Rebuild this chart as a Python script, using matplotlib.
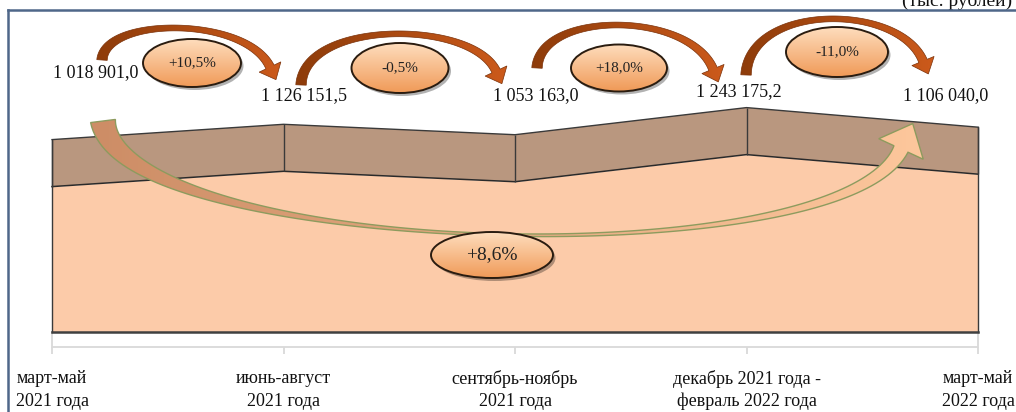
import numpy as np
import matplotlib
matplotlib.use('Agg')
import matplotlib.pyplot as plt
from matplotlib.patches import Polygon, Ellipse
from matplotlib.colors import LinearSegmentedColormap

periods = ['март-май\n2021 года', 'июнь-август\n2021 года', 'сентябрь-ноябрь\n2021 года',
           'декабрь 2021 года -\nфевраль 2022 года', 'март-май\n2022 года']
values = np.array([1018901.0, 1126151.5, 1053163.0, 1243175.2, 1106040.0])
change_labels = ['+10,5%', '-0,5%', '+18,0%', '-11,0%']
total_change = '+8,6%'
unit_label = '(тыс. рублей)'

W, H = 1016, 412
X0, STEP = 52, 231.5      # pixel of first category, pixels per category
Y0, K = 332, 1.427e-4     # pixel of zero, pixels per unit
D = 47 / K                # depth of the 3d top face

plt.rcParams['font.family'] = ['Liberation Serif', 'DejaVu Serif']

fig = plt.figure(figsize=(W / 100, H / 100), dpi=100)
ax = fig.add_axes([0, 0, 1, 1])
ax.axis('off')


def to_data(px, py):
    return (np.asarray(px) - X0) / STEP, (Y0 - np.asarray(py)) / K


def grad_fill(patch, x0, y0, x1, y1, c_a, c_b, horizontal=True, z=3):
    cmap = LinearSegmentedColormap.from_list('g', [c_a, c_b])
    g = np.linspace(0, 1, 200)
    img = g.reshape(1, -1) if horizontal else g.reshape(-1, 1)
    dx0, dy0 = to_data(x0, y1)
    dx1, dy1 = to_data(x1, y0)
    ax.imshow(img, cmap=cmap, extent=(dx0, dx1, dy0, dy1), aspect='auto',
              origin='upper', clip_path=patch, zorder=z, interpolation='bilinear')


def arrow_poly(P, wfun, head_w, head_len, n=120):
    P = np.asarray(P, float)
    t = np.linspace(0, 1, n)[:, None]
    B = ((1 - t) ** 3) * P[0] + 3 * ((1 - t) ** 2) * t * P[1] + 3 * (1 - t) * t ** 2 * P[2] + t ** 3 * P[3]
    dB = 3 * (1 - t) ** 2 * (P[1] - P[0]) + 6 * (1 - t) * t * (P[2] - P[1]) + 3 * t ** 2 * (P[3] - P[2])
    d = dB / np.linalg.norm(dB, axis=1)[:, None]
    nrm = np.c_[-d[:, 1], d[:, 0]]
    w = wfun(t[:, 0])[:, None]
    left = B + nrm * w / 2
    right = B - nrm * w / 2
    tip = B[-1] + d[-1] * head_len
    wl = B[-1] + nrm[-1] * head_w / 2
    wr = B[-1] - nrm[-1] * head_w / 2
    pts = np.vstack([left, wl, tip, wr, right[::-1]])
    return pts


def add_arrow(pts, c_a, c_b, edge, lw, z):
    xs, ys = to_data(pts[:, 0], pts[:, 1])
    poly = Polygon(np.c_[xs, ys], closed=True, facecolor='none', edgecolor=edge, lw=lw, zorder=z + 0.5)
    ax.add_patch(poly)
    grad_fill(poly, pts[:, 0].min(), pts[:, 1].min(), pts[:, 0].max(), pts[:, 1].max(), c_a, c_b, True, z)


def add_ellipse(cx, cy, w, h, text, fs):
    sx, sy = to_data(cx + 2.5, cy + 3)
    ax.add_patch(Ellipse((sx, sy), w / STEP, h / K, facecolor='#000000', alpha=0.3, lw=0, zorder=4))
    ex, ey = to_data(cx, cy)
    e = Ellipse((ex, ey), w / STEP, h / K, facecolor='none', edgecolor='#2a1c10', lw=1.4, zorder=4.6)
    ax.add_patch(e)
    grad_fill(e, cx - w / 2, cy - h / 2, cx + w / 2, cy + h / 2, '#FEDDBD', '#F09A58', False, 4.5)
    ax.text(ex, ey, text, ha='center', va='center', fontsize=fs, color='#222222', zorder=5)


x = np.arange(len(values))

# 3d area: top face (depth) and front face
ax.fill(np.r_[x, x[::-1]], np.r_[values, (values + D)[::-1]], color='#B9977F', lw=0, zorder=1)
ax.fill_between(x, 0, values, color='#FCCBA9', lw=0, zorder=1)
ax.plot(x, values + D, color='#3a3a3a', lw=1, zorder=2)
ax.plot(x, values, color='#2a2a2a', lw=1.1, zorder=2)
ax.vlines(x, values, values + D, color='#3a3a3a', lw=1, zorder=2)
ax.plot([0, 0], [0, values[0] + D], color='#3a3a3a', lw=1, zorder=2)
ax.plot([x[-1], x[-1]], [0, values[-1] + D], color='#3a3a3a', lw=1, zorder=2)
ax.plot([0, x[-1]], [0, 0], color='#404040', lw=1.8, zorder=2)

# floor and ticks
_, fl = to_data(0, 347)
_, fl2 = to_data(0, 354)
ax.plot([0, 0, x[-1], x[-1]], [0, fl, fl, 0], color='#D9D9D9', lw=1.3, zorder=1)
ax.vlines(x, fl2, fl, color='#D9D9D9', lw=1.3, zorder=1)

_, ty = to_data(0, 390)
for i, lab in enumerate(periods):
    ax.text(i, ty, lab, ha='center', va='center', fontsize=13, linespacing=1.4, color='#111111')

# value labels
lab_dx = [44, 20, 21, -8, -32]
lab_py = [73, 96, 96, 92, 96]
for i, v in enumerate(values):
    s = f'{v:,.1f}'.replace(',', ' ').replace('.', ',')
    lx, ly = to_data(X0 + i * STEP + lab_dx[i], lab_py[i])
    ax.text(lx, ly, s, ha='center', va='center', fontsize=13, color='#111111', zorder=5)

# big arrow across the whole period
big = arrow_poly([(103, 121), (120, 256), (841, 279), (901, 149)],
                 lambda t: np.where(t < 0.5, 2.5 + 22.5 * (1 - 2 * t) ** 2, 2.5 + 13 * (2 * t - 1) ** 2),
                 49, 28)
add_arrow(big, '#CD8D66', '#FDC79C', '#8D9B5E', 1.0, 3)
add_ellipse(492, 255, 122, 46, total_change, 14)

# small arrows between periods
arrows = [((102, 60), (270, 67), 28), ((301, 85), (496, 71), 34),
          ((537, 68), (713, 69), 25), ((746, 75), (923, 61), 19)]
for (p0, p3, top) in arrows:
    c = (8 * top - p0[1] - p3[1]) / 6
    pts = arrow_poly([p0, (p0[0] + 3, c), (p3[0] - 24, c), p3],
                     lambda t: 10.5 - 4 * np.sin(np.pi * t) - 1.5 * t, 24, 14)
    add_arrow(pts, '#8E3C0A', '#CC5A1B', '#7a3008', 0.5, 3)

for (cx, cy, w, h), lab in zip([(192, 63, 98, 48), (400, 68, 97, 50), (619, 68, 96, 47), (837, 52, 102, 50)],
                               change_labels):
    add_ellipse(cx, cy, w, h, lab, 11)

# frame and unit label
fx0, fy0 = to_data(8, 10)
fx1, fy1 = to_data(W + 5, H + 5)
ax.plot([fx0, fx0], [fy1, fy0], color='#4F6789', lw=1.8, zorder=6)
ax.plot([fx0, fx1], [fy0, fy0], color='#4F6789', lw=1.8, zorder=6)
ux, uy = to_data(1012, 6)
ax.text(ux, uy, unit_label, ha='right', va='baseline', fontsize=14, color='#111111')

ax.set_xlim(-X0 / STEP, (W - X0) / STEP)
ax.set_ylim((Y0 - H) / K, Y0 / K)
fig.savefig('out.png', dpi=100)
